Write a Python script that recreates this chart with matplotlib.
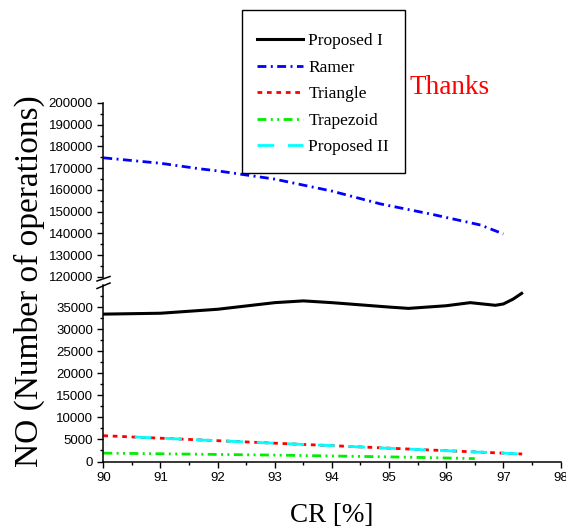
import matplotlib
matplotlib.use("Agg")
import matplotlib.pyplot as plt
from matplotlib.lines import Line2D
from matplotlib.patches import Rectangle
from matplotlib.ticker import MultipleLocator

# data
x_p1 = [90, 91, 92, 93, 93.5, 94, 95, 95.34, 96, 96.42, 96.86, 97.0, 97.17, 97.32]
y_p1 = [33400, 33600, 34500, 36000, 36400, 36000, 35000, 34700, 35300, 36000, 35400, 35700, 36800, 38100]

x_ramer = [90, 91, 91.7, 92, 93, 94, 94.85, 95.72, 96.6, 97.0]
y_ramer = [174800, 172300, 169700, 168800, 165000, 159500, 153600, 149000, 143900, 139800]

x_tri = [90, 91, 92, 93, 94, 95, 96, 97, 97.33]
y_tri = [5850, 5280, 4720, 4150, 3590, 3020, 2450, 1890, 1700]

x_trap = [90, 91, 92, 93, 94, 95, 96, 96.5]
y_trap = [1900, 1750, 1600, 1450, 1250, 1050, 800, 650]

x_p2 = [90.55, 91, 92, 93, 94, 95, 96, 97, 97.33]
y_p2 = [5550, 5300, 4700, 4150, 3600, 3000, 2450, 1900, 1700]

labels = ["Proposed I", "Ramer", "Triangle", "Trapezoid", "Proposed II"]

serif = ["Liberation Serif", "DejaVu Serif"]
plt.rcParams["font.family"] = ["Liberation Sans", "DejaVu Sans"]

W, H = 566, 531
fig = plt.figure(figsize=(W / 100, H / 100), dpi=100)

def fx(px):
    return px / W

def fy(py):
    return 1 - py / H

left, right = fx(103.3), fx(560.5)
ax_top = fig.add_axes([left, fy(277), right - left, fy(103) - fy(277)])
ax_bot = fig.add_axes([left, fy(461.5), right - left, fy(285) - fy(461.5)])

lw = 2.0
styles = {
    "p1": dict(color="black", lw=2.2, ls="-"),
    "ramer": dict(color="blue", lw=lw, dashes=(3.2, 1.6, 0.7, 1.6)),
    "tri": dict(color="red", lw=lw, dashes=(1.7, 1.7)),
    "trap": dict(color="#00ee00", lw=lw, dashes=(3.2, 1.6, 0.7, 1.6, 0.7, 1.6)),
    "p2": dict(color="cyan", lw=lw, dashes=(6, 5)),
}

ax_top.plot(x_ramer, y_ramer, **styles["ramer"])
ax_bot.plot(x_p1, y_p1, **styles["p1"])
ax_bot.plot(x_tri, y_tri, **styles["tri"])
ax_bot.plot(x_trap, y_trap, **styles["trap"])
ax_bot.plot(x_p2, y_p2, **styles["p2"])

for ax in (ax_top, ax_bot):
    ax.set_xlim(90, 98)
    for s in ("top", "right"):
        ax.spines[s].set_visible(False)
    ax.spines["left"].set_linewidth(1.1)
    ax.spines["bottom"].set_linewidth(1.1)
    ax.tick_params(which="major", direction="out", length=4.5, width=1.0,
                   labelsize=9.5, pad=3, colors="black")
    ax.tick_params(which="minor", direction="out", length=2.5, width=1.0)

ax_top.set_ylim(120000, 200000)
ax_top.yaxis.set_major_locator(MultipleLocator(10000))
ax_top.yaxis.set_minor_locator(MultipleLocator(5000))
ax_top.spines["bottom"].set_visible(False)
ax_top.set_xticks([])
ax_top.patch.set_alpha(0)

ax_bot.set_ylim(0, 40000)
ax_bot.set_yticks(range(0, 40000, 5000))
ax_bot.set_yticks(range(2500, 40000, 5000), minor=True)
ax_bot.xaxis.set_major_locator(MultipleLocator(1))
ax_bot.xaxis.set_minor_locator(MultipleLocator(0.5))

# axis break marks
for y0, y1 in ((281, 276.5), (288.5, 283)):
    fig.add_artist(Line2D([fx(97), fx(110)], [fy(y0), fy(y1)],
                          color="black", lw=1.1, transform=fig.transFigure))

fig.text(fx(332), fy(516), "CR [%]", family=serif, fontsize=19.5,
         ha="center", va="center")
fig.text(fx(29), fy(281), "NO (Number of operations)", family=serif,
         fontsize=24, rotation=90, ha="center", va="center")
fig.text(fx(410), fy(88), "Thanks", family=serif, fontsize=19.5,
         color="red", ha="left", va="center")

# legend box drawn separately so the padding can match
fig.add_artist(Rectangle((fx(242), fy(173)), fx(405) - fx(242), fy(10) - fy(173),
                         transform=fig.transFigure, facecolor="white",
                         edgecolor="black", lw=1.0, zorder=4))
handles = [Line2D([], [], **styles[k]) for k in ("p1", "ramer", "tri", "trap", "p2")]
leg = fig.legend(handles, labels, loc="upper left",
                 bbox_to_anchor=(fx(257), fy(33)), bbox_transform=fig.transFigure,
                 prop={"family": serif, "size": 12.5}, frameon=False,
                 handlelength=2.65, handletextpad=0.3, labelspacing=0.6,
                 borderpad=0, borderaxespad=0)
leg.set_zorder(5)

fig.savefig("out.png", dpi=100)
